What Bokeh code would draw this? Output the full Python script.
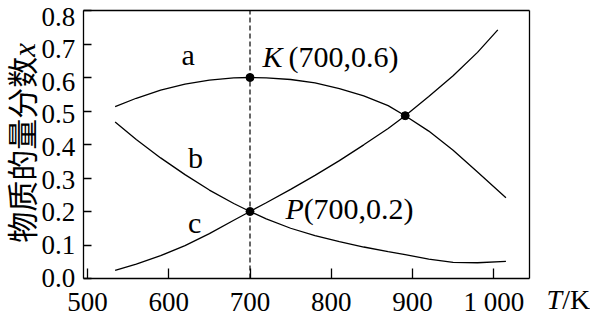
import math
from bokeh.plotting import figure
from bokeh.models import Label, FixedTicker, Range1d, LinearAxis
from bokeh.embed import file_html
from bokeh.resources import INLINE

# ---- data ----
T = [534, 560, 590, 620, 650, 680, 700, 720, 750, 780, 810, 840, 870, 891, 920, 950, 980, 1015]
curve_a = [0.513, 0.538, 0.562, 0.580, 0.592, 0.599, 0.600, 0.599, 0.594, 0.584, 0.567, 0.545,
           0.516, 0.486, 0.440, 0.383, 0.318, 0.241]
curve_b = [0.467, 0.415, 0.360, 0.310, 0.264, 0.224, 0.200, 0.178, 0.150, 0.128, 0.110, 0.094,
           0.080, 0.071, 0.058, 0.048, 0.047, 0.051]
T_c = [534, 560, 590, 620, 650, 680, 700, 720, 750, 780, 810, 840, 870, 891, 920, 950, 980, 1005]
curve_c = [0.024, 0.043, 0.068, 0.098, 0.134, 0.174, 0.200, 0.226, 0.266, 0.308, 0.352, 0.399,
           0.448, 0.486, 0.543, 0.605, 0.675, 0.742]
dot_T = [700, 700, 891]
dot_x = [0.6, 0.2, 0.486]
x_ticks = [500, 600, 700, 800, 900, 1000]
y_ticks = [0.0, 0.1, 0.2, 0.3, 0.4, 0.5, 0.6, 0.7, 0.8]
x_lo, x_hi = 494.7, 1044.0   # plotted temperature span (box edges)
y_lo, y_hi = 0.0, 0.8

SERIF = "Liberation Serif"
CJK = "Noto Sans CJK SC"

# frame fills the whole canvas; the axes are pinned at the box edges
W, H = 590, 315
box_left, box_right, box_top, box_bottom = 82.7, 529.0, 10.0, 278.0
sx = (box_right - box_left) / (x_hi - x_lo)
sy = (box_bottom - box_top) / (y_hi - y_lo)
xr = Range1d(x_lo - box_left / sx, x_lo + (W - box_left) / sx)
yr = Range1d(y_lo - (H - box_bottom) / sy, y_hi + box_top / sy)
# the printed y labels sit slightly lower than their ticks (0.8 label 6px low, 0.0 label 1px high)
lab_top, lab_bottom = box_top + 6.0, box_bottom - 1.0
sy_lab = (lab_bottom - lab_top) / (y_hi - y_lo)
yr_lab = Range1d(y_lo - (H - lab_bottom) / sy_lab, y_hi + lab_top / sy_lab)

p = figure(width=W, height=H, output_backend="svg", toolbar_location=None,
           x_range=xr, y_range=yr, min_border=0,
           min_border_left=0, min_border_right=0, min_border_top=0, min_border_bottom=0)
p.extra_y_ranges = {"ylab": yr_lab}
p.background_fill_color = "white"
p.border_fill_color = "white"
p.xgrid.visible = False
p.ygrid.visible = False
p.outline_line_color = None

def style_axis(ax):
    ax.axis_line_color = "black"
    ax.axis_line_width = 1.3
    ax.major_tick_line_color = "black"
    ax.major_tick_line_width = 1.3
    ax.major_tick_out = 0
    ax.minor_tick_line_color = None
    ax.major_label_text_font = SERIF
    ax.major_label_text_font_size = "27px"
    ax.major_label_text_color = "black"

xa = p.xaxis[0]
ya = p.yaxis[0]
style_axis(xa)
style_axis(ya)
xa.fixed_location = y_lo
xa.bounds = (x_lo, x_hi)
xa.ticker = FixedTicker(ticks=x_ticks)
xa.major_tick_in = 10
xa.major_label_standoff = 8
xa.major_label_overrides = {1000: "1 000"}
ya.fixed_location = x_lo
ya.bounds = (y_lo, y_hi)
ya.ticker = FixedTicker(ticks=y_ticks)
ya.major_tick_in = 8
ya.major_label_text_color = None

# y tick labels
ylab_ax = LinearAxis(y_range_name="ylab", fixed_location=x_lo, ticker=FixedTicker(ticks=y_ticks))
style_axis(ylab_ax)
ylab_ax.axis_line_color = None
ylab_ax.major_tick_line_color = None
ylab_ax.major_tick_in = 0
ylab_ax.major_label_standoff = 8
ylab_ax.major_label_overrides = {v: f"{v:.1f}" for v in y_ticks}
p.add_layout(ylab_ax, "left")

top_ax = LinearAxis(fixed_location=y_hi, bounds=(x_lo, x_hi), ticker=FixedTicker(ticks=[]))
right_ax = LinearAxis(fixed_location=x_hi, bounds=(y_lo, y_hi), ticker=FixedTicker(ticks=[]))
for ax in (top_ax, right_ax):
    style_axis(ax)
    ax.major_tick_in = 0
    ax.major_label_text_color = None
p.add_layout(top_ax, "above")
p.add_layout(right_ax, "right")

# dashed guide through K and P
p.segment(x0=[dot_T[0]], y0=[y_lo], x1=[dot_T[0]], y1=[y_hi], line_color="black",
          line_width=1.2, line_dash="5 3")

p.line(T, curve_a, line_color="black", line_width=1.3)
p.line(T, curve_b, line_color="black", line_width=1.3)
p.line(T_c, curve_c, line_color="black", line_width=1.3)
p.scatter(dot_T, dot_x, size=8, color="black")

def lab(x, y, text, size="30px", font=SERIF, style="normal", align="left",
        baseline="middle", angle=0.0):
    p.add_layout(Label(x=x, y=y, text=text, text_font=font, text_font_size=size,
                       text_font_style=style, text_align=align, text_baseline=baseline,
                       angle=angle, text_color="black"))

lab(623.8, 0.670, "a", align="center")
lab(633.0, 0.361, "b", align="center")
lab(631.8, 0.166, "c", align="center")
lab(715.5, 0.664, "K", style="italic")
lab(747.5, 0.664, "(700,0.6)")
lab(743.8, 0.209, "P", style="italic")
lab(766.0, 0.209, "(700,0.2)")

# axis titles
lab(1065.0, -0.063, "T", size="28px", style="italic")
lab(1084.2, -0.063, "/K", size="28px")
lab(417.5, 0.107, "物质的量分数", size="31px", font=CJK, angle=math.pi / 2)
lab(422.4, 0.662, "x", size="31px", style="italic", angle=math.pi / 2)

open("out.html", "w").write(file_html(p, INLINE))
